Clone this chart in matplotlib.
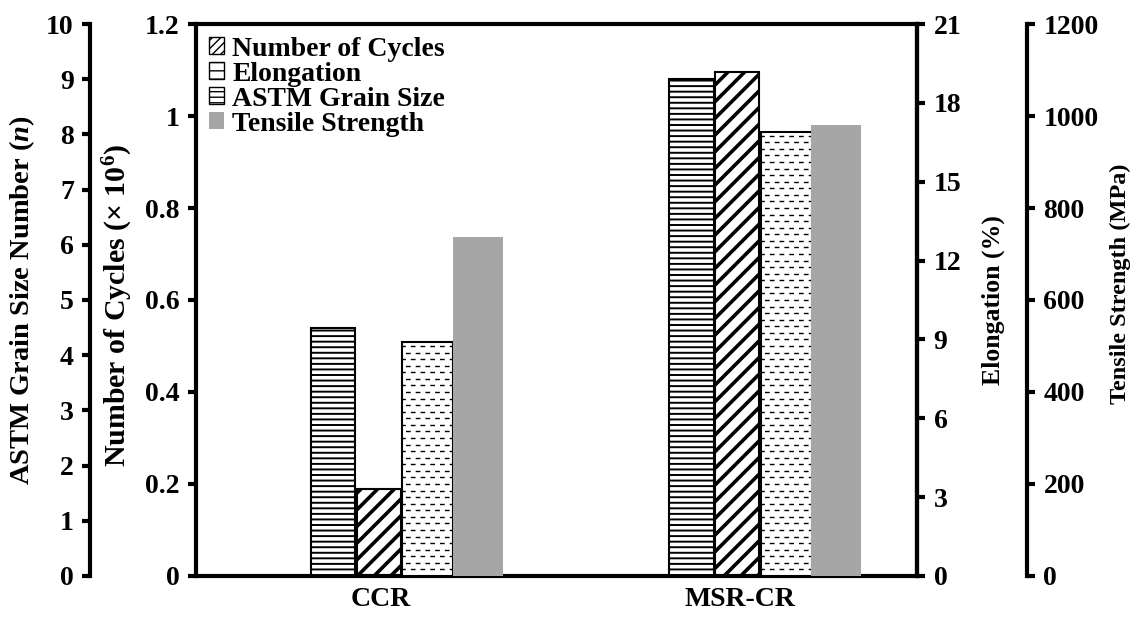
import matplotlib
matplotlib.use("Agg")
import matplotlib.pyplot as plt
import matplotlib.patches as mpatches
import matplotlib.ticker as mticker
import numpy as np

# ── data ──────────────────────────────────────────────────────────────
groups = ["CCR", "MSR-CR"]
grain_size = [4.5, 9.0]          # ASTM grain size number (n)
cycles = [0.19, 1.095]           # number of cycles (x 10^6)
elongation = [8.9, 16.9]         # %
tensile = [737, 980]             # MPa

# ── style ─────────────────────────────────────────────────────────────
plt.rcParams["font.family"] = ["Liberation Serif", "DejaVu Serif"]
plt.rcParams["font.weight"] = "bold"
plt.rcParams["mathtext.fontset"] = "custom"
plt.rcParams["mathtext.rm"] = "Liberation Serif:bold"
plt.rcParams["mathtext.it"] = "Liberation Serif:italic:bold"
plt.rcParams["mathtext.bf"] = "Liberation Serif:bold"
FS = 20
SPINE_W = 3.0
GRAY = "#a6a6a6"

# bar offsets / widths relative to the category centre
OFF = {"grain": -0.133, "cycles": -0.006, "elong": 0.130, "tensile": 0.270}
WID = {"grain": 0.125, "cycles": 0.123, "elong": 0.142, "tensile": 0.139}

fig = plt.figure(figsize=(11.41, 6.19), dpi=100)
ax = fig.add_axes([0.1718, 0.0695, 0.6319, 0.8917])
ax_g = ax.twinx()   # ASTM grain size, far left
ax_e = ax.twinx()   # elongation, right
ax_t = ax.twinx()   # tensile strength, far right

x = np.arange(len(groups))

# ASTM grain size
with plt.rc_context({"hatch.linewidth": 1.4}):
    ax_g.bar(x + OFF["grain"], grain_size, width=WID["grain"], color="white",
             edgecolor="black", linewidth=1.5, hatch="---")
# number of cycles
with plt.rc_context({"hatch.linewidth": 2.6}):
    ax.bar(x + OFF["cycles"], cycles, width=WID["cycles"], color="white",
           edgecolor="black", linewidth=1.5, hatch="//")
# elongation: staggered dashed rows drawn inside each bar
ebars = ax_e.bar(x + OFF["elong"], elongation, width=WID["elong"], color="white",
                 edgecolor="black", linewidth=1.5)
for b in ebars:
    ys = np.arange(0.25, b.get_height(), 0.25)
    x0, x1 = b.get_x(), b.get_x() + b.get_width()
    ax_e.hlines(ys[::2], x0, x1, colors="black", linewidth=1.0,
                linestyles=(1.0, (3.4, 3.6)), clip_path=b)
    ax_e.hlines(ys[1::2], x0, x1, colors="black", linewidth=1.0,
                linestyles=(4.5, (3.4, 3.6)), clip_path=b)
# tensile strength
ax_t.bar(x + OFF["tensile"], tensile, width=WID["tensile"], color=GRAY,
         edgecolor="none")

ax.set_xlim(-0.515, 1.495)
ax.set_xticks(x)
ax.set_xticklabels(groups, fontsize=FS, fontweight="bold")
ax.tick_params(axis="x", length=0, pad=8)

# main axis (cycles)
ax.set_ylim(0, 1.2)
ax.set_yticks(np.arange(0, 1.21, 0.2))
ax.yaxis.set_major_formatter(mticker.FuncFormatter(lambda v, p: f"{v:g}"))
ax.set_ylabel("Number of Cycles (× 10$^{6}$)", fontsize=21.5, fontweight="bold")
ax.yaxis.set_label_coords(-0.0846, 0.489)
for s in ax.spines.values():
    s.set_linewidth(SPINE_W)

# grain size axis
ax_g.set_ylim(0, 10)
ax_g.set_yticks(np.arange(0, 11, 1))
ax_g.yaxis.set_ticks_position("left")
ax_g.yaxis.set_label_position("left")
ax_g.spines["left"].set_position(("outward", 76))
ax_g.set_ylabel("ASTM Grain Size Number ($\\it{n}$)", fontsize=20.5, fontweight="bold")
ax_g.yaxis.set_label_coords(-0.2205, 0.5)

# elongation axis
ax_e.set_ylim(0, 21)
ax_e.set_yticks(np.arange(0, 22, 3))
ax_e.set_ylabel("Elongation (%)", fontsize=18.5, fontweight="bold")
ax_e.yaxis.set_label_coords(1.090, 0.5)

# tensile axis
ax_t.set_ylim(0, 1200)
ax_t.set_yticks(np.arange(0, 1201, 200))
ax_t.spines["right"].set_position(("outward", 79))
ax_t.set_ylabel("Tensile Strength (MPa)", fontsize=17.5, fontweight="bold")
ax_t.yaxis.set_label_coords(1.268, 0.529)

for a, keep in [(ax_g, "left"), (ax_e, "right"), (ax_t, "right")]:
    for name, s in a.spines.items():
        s.set_visible(name == keep)
        s.set_linewidth(SPINE_W)

for a in (ax, ax_g, ax_e, ax_t):
    a.tick_params(axis="y", direction="out", length=6, width=SPINE_W,
                  labelsize=FS, pad=6)
    for lbl in a.get_yticklabels():
        lbl.set_fontweight("bold")

# legend
handles = [
    mpatches.Patch(facecolor="white", edgecolor="black", hatch="////", label="Number of Cycles"),
    mpatches.Patch(facecolor="white", edgecolor="black", hatch="--", label="Elongation"),
    mpatches.Patch(facecolor="white", edgecolor="black", hatch="---", label="ASTM Grain Size"),
    mpatches.Patch(facecolor=GRAY, edgecolor="none", label="Tensile Strength"),
]
ax_t.legend(handles=handles, loc="upper left", bbox_to_anchor=(0.0, 1.0),
            frameon=False, prop={"size": FS, "weight": "bold"},
            handlelength=0.55, handleheight=0.55, handletextpad=0.3,
            labelspacing=0.0, borderaxespad=0.3, borderpad=0.15)

plt.savefig("out.png", dpi=100)
plt.close()
